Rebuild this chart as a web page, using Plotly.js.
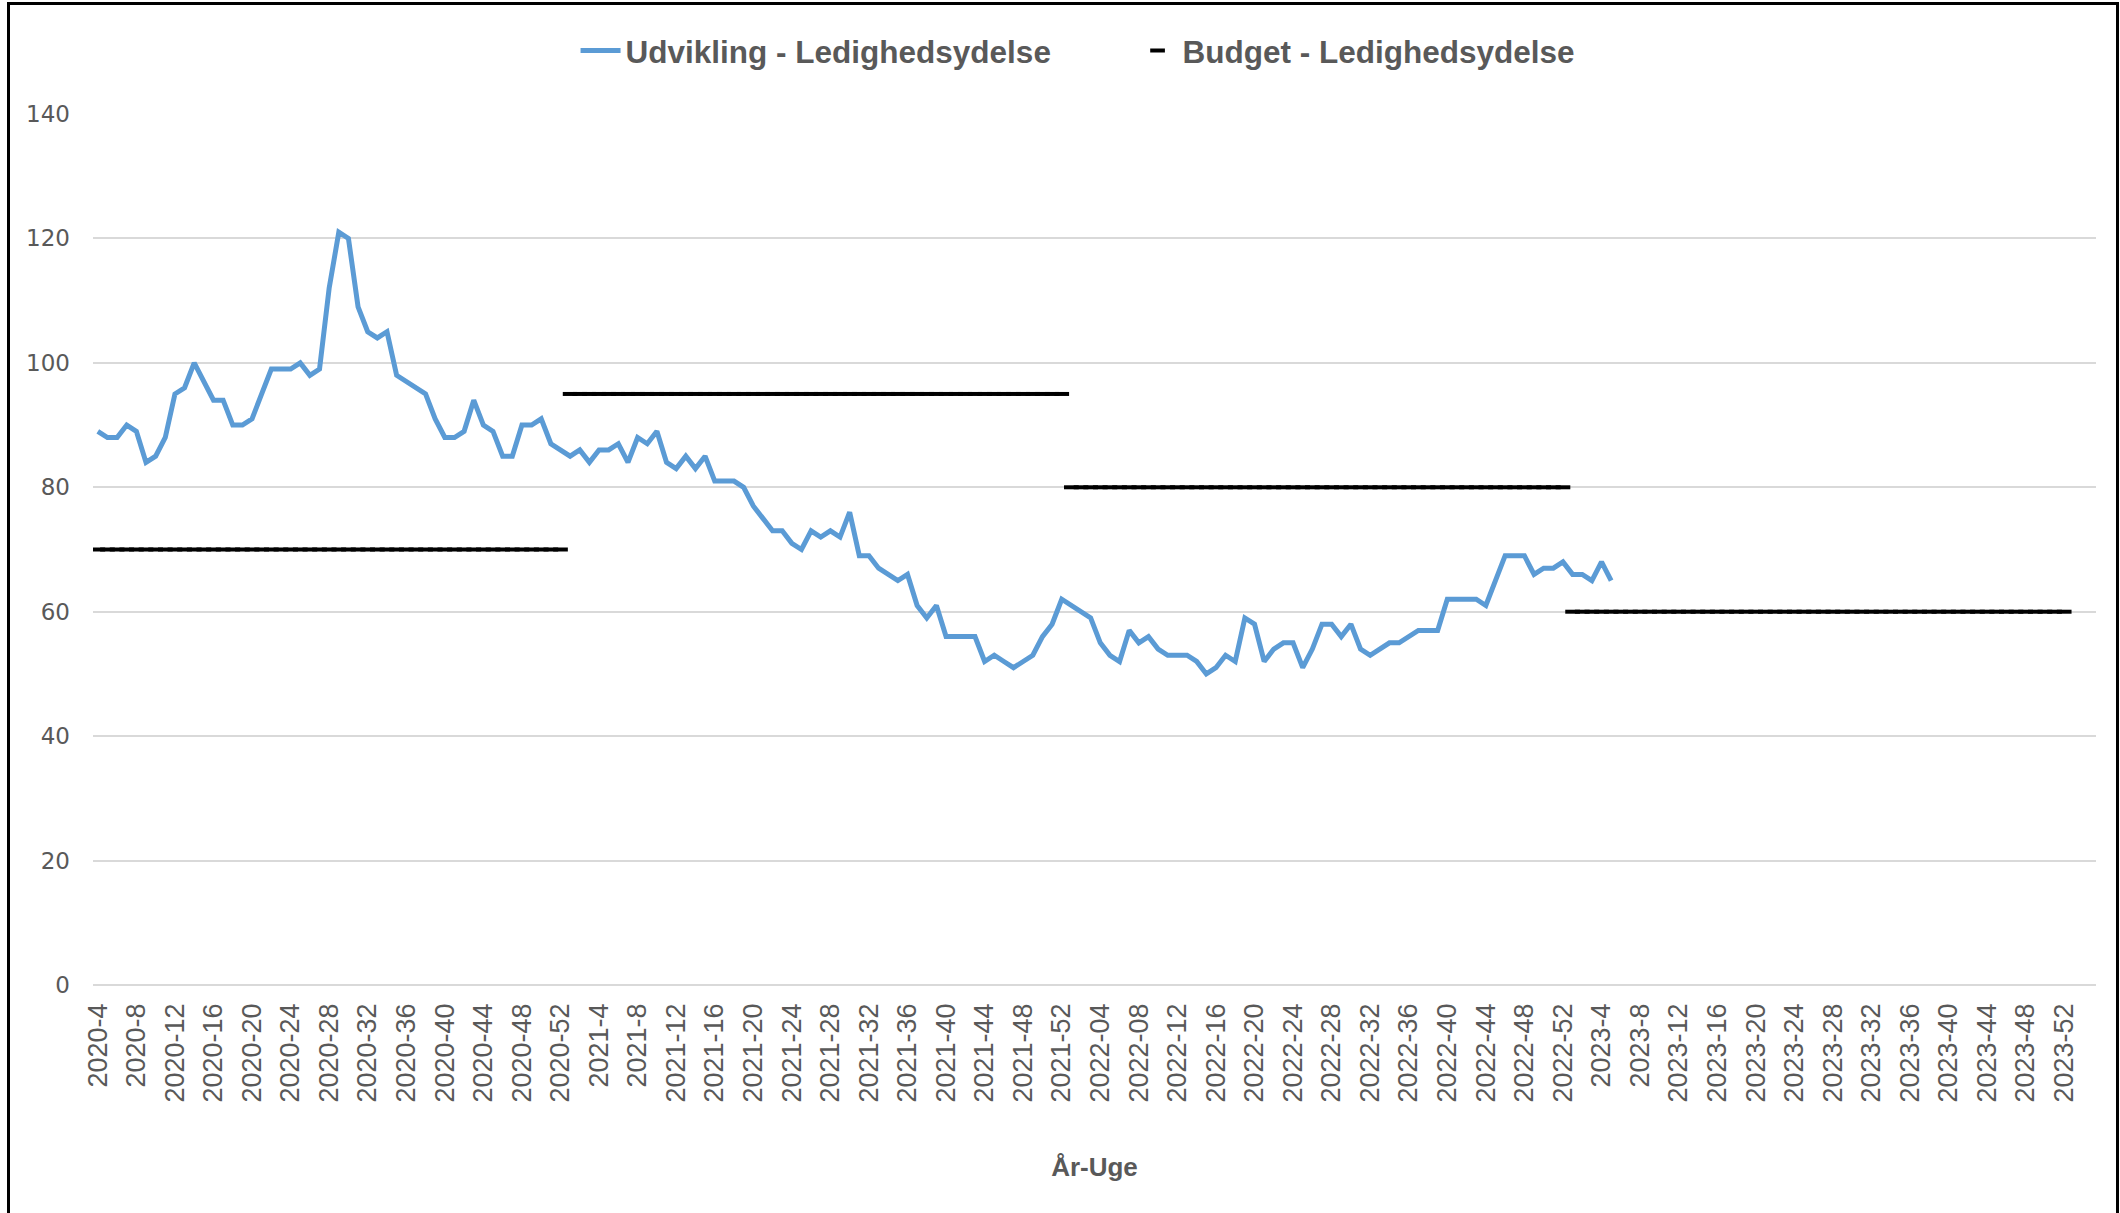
<!DOCTYPE html>
<html>
<head>
<meta charset="utf-8">
<script src="https://cdn.plot.ly/plotly-3.0.1.min.js"></script>
<style>
html, body { margin: 0; padding: 0; background: #ffffff; overflow: hidden; }
#chart { position: absolute; left: 0; top: 0; width: 2120px; height: 1213px; }
#frame { position: absolute; left: 7px; top: 2px; width: 2112px; height: 1400px; border: 3px solid #000; box-sizing: border-box; pointer-events: none; }
</style>
</head>
<body>
<div id="chart"></div>
<div id="frame"></div>
<script>
// ---- categories (year-week) ----
const years = [2020, 2021, 2022, 2023];
const firstWeek = [4, 1, 1, 1];
const lastWeek = [52, 52, 52, 52];
const zeroPadWeeks = [false, false, true, false];

// ---- budget per year ----
const budgetPerYear = [70, 95, 80, 60];

// ---- Udvikling - Ledighedsydelse (weekly, from 2020-4) ----
const udvikling2020 = [89, 88, 88, 90, 89, 84, 85, 88, 95, 96, 100, 97, 94, 94, 90, 90, 91, 95, 99, 99,
  99, 100, 98, 99, 112, 121, 120, 109, 105, 104, 105, 98, 97, 96, 95, 91, 88, 88, 89, 94,
  90, 89, 85, 85, 90, 90, 91, 87, 86];
const udvikling2021 = [85, 86, 84, 86, 86, 87, 84, 88, 87, 89, 84, 83, 85, 83, 85, 81, 81, 81, 80, 77,
  75, 73, 73, 71, 70, 73, 72, 73, 72, 76, 69, 69, 67, 66, 65, 66, 61, 59, 61, 56,
  56, 56, 56, 52, 53, 52, 51, 52, 53, 56, 58, 62];
const udvikling2022 = [61, 60, 59, 55, 53, 52, 57, 55, 56, 54, 53, 53, 53, 52, 50, 51, 53, 52, 59, 58,
  52, 54, 55, 55, 51, 54, 58, 58, 56, 58, 54, 53, 54, 55, 55, 56, 57, 57, 57, 62,
  62, 62, 62, 61, 65, 69, 69, 69, 66, 67, 67, 68];
const udvikling2023 = [66, 66, 65, 68, 65];

// ---- build category list ----
const categories = [];
const budget = [];
years.forEach((y, k) => {
  for (let w = firstWeek[k]; w <= lastWeek[k]; w++) {
    const ws = zeroPadWeeks[k] && w < 10 ? '0' + w : String(w);
    categories.push(y + '-' + ws);
    budget.push(budgetPerYear[k]);
  }
});
const udvikling = [].concat(udvikling2020, udvikling2021, udvikling2022, udvikling2023);

const grey = '#595959';
const traces = [
  {
    type: 'scatter', mode: 'lines', name: 'Udvikling - Ledighedsydelse',
    x: categories.slice(0, udvikling.length), y: udvikling,
    line: { color: '#5B9BD5', width: 5, shape: 'linear' },
    hoverinfo: 'x+y'
  },
  {
    type: 'scatter', mode: 'markers', name: 'Budget - Ledighedsydelse',
    x: categories, y: budget,
    marker: { symbol: 'line-ew', size: 10.5, color: '#000000', line: { color: '#000000', width: 4 } },
    hoverinfo: 'x+y'
  }
];

const layout = {
  width: 2120, height: 1213,
  paper_bgcolor: '#ffffff', plot_bgcolor: '#ffffff',
  margin: { l: 93, r: 24, t: 114, b: 228, pad: 0 },
  font: { family: 'Liberation Sans, Arial, sans-serif', color: grey },
  showlegend: true,
  legend: {
    orientation: 'h', x: 0.519, xanchor: 'center', y: 1.073, yanchor: 'middle',
    font: { family: 'Liberation Sans, Arial, sans-serif', size: 31.5, color: grey, weight: 'bold' },
    bgcolor: 'rgba(0,0,0,0)', itemwidth: 40, tracegroupgap: 0,
    entrywidth: 502, entrywidthmode: 'pixels'
  },
  xaxis: {
    type: 'category', categoryorder: 'array', categoryarray: categories,
    range: [-0.5, 207.3],
    tickmode: 'linear', tick0: 0, dtick: 4,
    tickangle: -90, ticks: '', showgrid: false, showline: false, zeroline: false,
    tickfont: { family: 'Liberation Sans, Arial, sans-serif', size: 27, color: grey },
    ticklabelstandoff: 12,
    title: { text: 'År-Uge', font: { family: 'Liberation Sans, Arial, sans-serif', size: 26, color: grey, weight: 'bold' }, standoff: 56 }
  },
  yaxis: {
    range: [0, 140], tickmode: 'linear', tick0: 0, dtick: 20,
    showgrid: true, gridcolor: '#d9d9d9', gridwidth: 2,
    zeroline: true, zerolinecolor: '#d9d9d9', zerolinewidth: 2,
    showline: false, ticks: '',
    tickfont: { family: 'DejaVu Sans, sans-serif', size: 23, color: grey },
    ticklabelstandoff: 22
  }
};

Plotly.newPlot('chart', traces, layout, { displayModeBar: false, staticPlot: true });
</script>
</body>
</html>
